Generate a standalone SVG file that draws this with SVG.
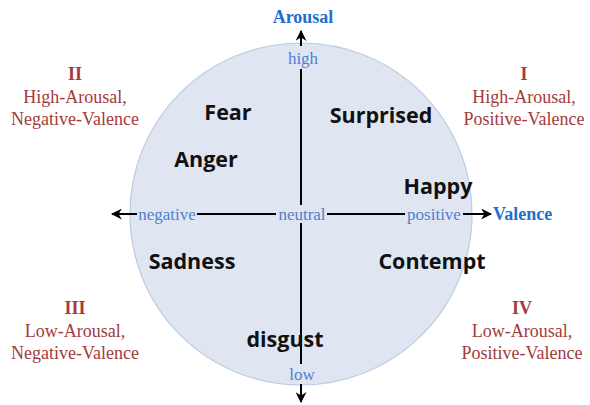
<svg xmlns="http://www.w3.org/2000/svg" width="590" height="405" viewBox="0 0 590 405">
<defs>
<marker id="ah" viewBox="0 0 10 10" refX="9" refY="5" markerWidth="11" markerHeight="11" markerUnits="userSpaceOnUse" orient="auto">
<path d="M0,0 L10,5 L0,10 L3,5 Z" fill="#000"/>
</marker>
<style>
.emo{font-family:"Open Sans","Liberation Sans",sans-serif;font-weight:bold;font-size:21.5px;fill:#111;text-anchor:middle}
.ax{font-family:"Liberation Serif",serif;font-size:17px;fill:#4f7fd0;text-anchor:middle}
.axt{font-family:"Liberation Serif",serif;font-size:18px;font-weight:bold;fill:#1f6fd0}
.q{font-family:"Liberation Serif",serif;font-size:18px;fill:#a33b3b;text-anchor:middle}
.qn{font-family:"Liberation Serif",serif;font-size:18px;font-weight:bold;fill:#a33b3b;text-anchor:middle}
.ln{stroke:#000;stroke-width:2;fill:none}
</style>
</defs>
<rect width="590" height="405" fill="#fff"/>
<g id="circle">
<circle cx="301" cy="214" r="171" fill="#dfe6f2" stroke="#bccbe2" stroke-width="1.2"/>
</g>
<g id="connectors">
<line class="ln" x1="301" y1="46" x2="301" y2="31" marker-end="url(#ah)"/>
<line class="ln" x1="301" y1="69" x2="301" y2="205"/>
<line class="ln" x1="301" y1="223" x2="301" y2="364"/>
<line class="ln" x1="301" y1="384" x2="301" y2="402" marker-end="url(#ah)"/>
<line class="ln" x1="137" y1="214" x2="112" y2="214" marker-end="url(#ah)"/>
<line class="ln" x1="197" y1="214" x2="276" y2="214"/>
<line class="ln" x1="327" y1="214" x2="405" y2="214"/>
<line class="ln" x1="463" y1="214" x2="491" y2="214" marker-end="url(#ah)"/>
</g>
<g id="axis-labels">
<text class="axt" x="303" y="23" text-anchor="middle">Arousal</text>
<text class="axt" x="493" y="220">Valence</text>
<text class="ax" x="303" y="64">high</text>
<text class="ax" x="302" y="380">low</text>
<text class="ax" x="167" y="220">negative</text>
<text class="ax" x="302" y="220">neutral</text>
<text class="ax" x="434" y="220">positive</text>
</g>
<g id="emotions">
<text class="emo" x="228" y="120">Fear</text>
<text class="emo" x="381" y="123">Surprised</text>
<text class="emo" x="206" y="167">Anger</text>
<text class="emo" x="438" y="194">Happy</text>
<text class="emo" x="192" y="269">Sadness</text>
<text class="emo" x="432" y="269">Contempt</text>
<text class="emo" x="285" y="347">disgust</text>
</g>
<g id="q2">
<text class="qn" x="75" y="80">II</text>
<text class="q" x="75" y="103">High-Arousal,</text>
<text class="q" x="75" y="125">Negative-Valence</text>
</g>
<g id="q1">
<text class="qn" x="524" y="80">I</text>
<text class="q" x="524" y="103">High-Arousal,</text>
<text class="q" x="524" y="125">Positive-Valence</text>
</g>
<g id="q3">
<text class="qn" x="75" y="314">III</text>
<text class="q" x="75" y="337">Low-Arousal,</text>
<text class="q" x="75" y="359">Negative-Valence</text>
</g>
<g id="q4">
<text class="qn" x="522" y="314">IV</text>
<text class="q" x="522" y="337">Low-Arousal,</text>
<text class="q" x="522" y="359">Positive-Valence</text>
</g>
</svg>
